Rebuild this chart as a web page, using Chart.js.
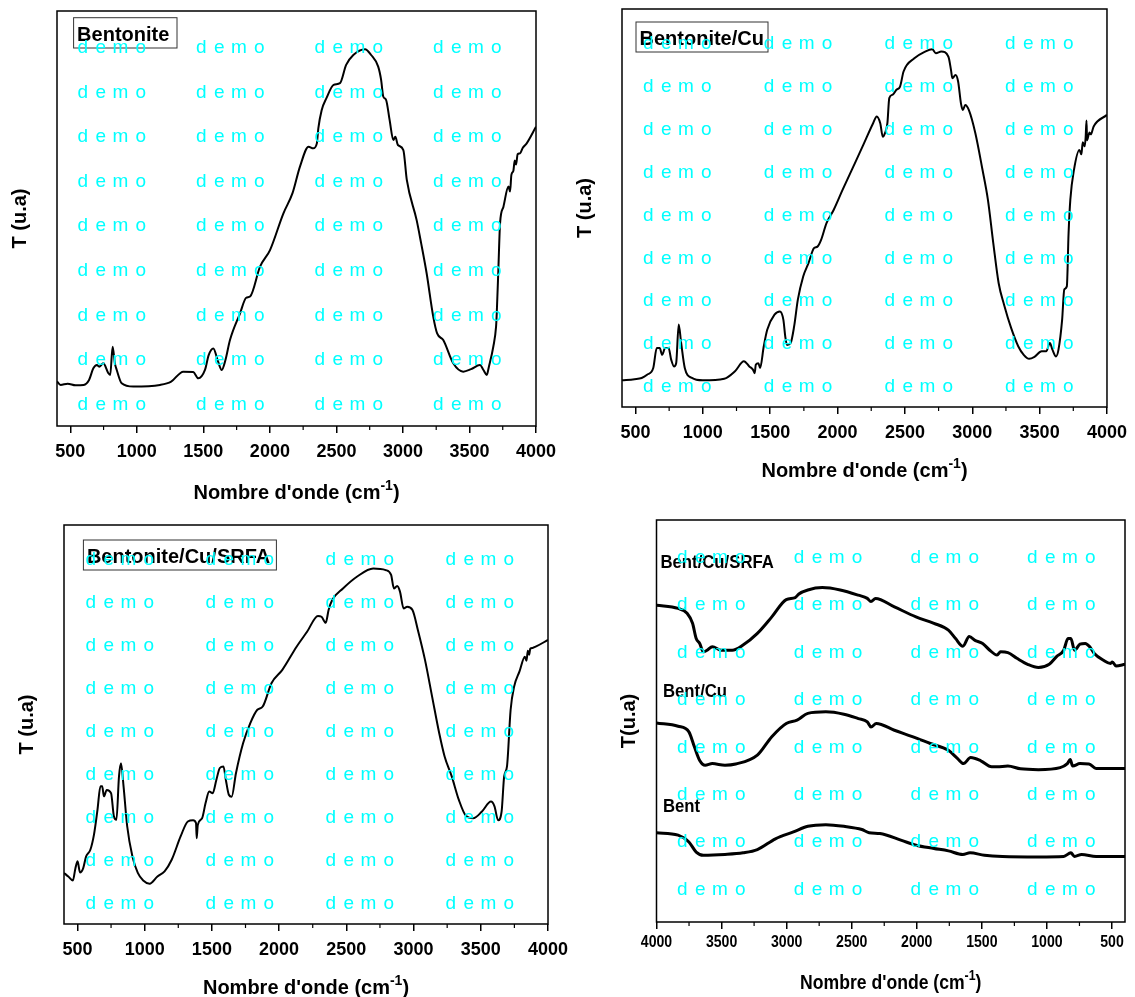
<!DOCTYPE html>
<html>
<head>
<meta charset="utf-8">
<script src="https://cdn.jsdelivr.net/npm/chart.js@4.4.1/dist/chart.umd.min.js"></script>
<style>
  body { margin: 0; background: #fff; width: 1135px; height: 997px; position: relative; overflow: hidden; }
  canvas { position: absolute; }
</style>
</head>
<body>
<canvas id="c1" width="567" height="505" style="left:0;top:0"></canvas>
<canvas id="c2" width="568" height="505" style="left:567px;top:0"></canvas>
<canvas id="c3" width="600" height="492" style="left:0;top:505px"></canvas>
<canvas id="c4" width="568" height="492" style="left:567px;top:505px"></canvas>
<script>
// Bentonite (panel 1)
var bentWn = [400,427,480,540,600,641,673,700,717,748,786,800,818,835,849,886,974,1174,1258,1349,1424,1462,1512,1540,1575,1607,1638,1666,1700,1775,1822,1851,1926,2001,2101,2170,2226,2291,2326,2353,2364,2389,2425,2479,2527,2573,2627,2715,2761,2814,2836,2852,2873,2900,2928,2943,2962,3003,3029,3103,3137,3178,3228,3257,3303,3378,3453,3512,3579,3605,3630,3646,3679,3700,3705,3717,3730,3755,3793,3805,3815,3830,3840,3850,3862,3880,3900,3930,4000];
var bentT = [10.7,9.9,10.2,9.8,9.9,11.1,13.9,14.7,14.3,15.1,12.7,12.3,19.1,15.1,13.5,10.3,9.5,9.9,10.7,13.1,13.0,11.5,13.5,17.1,18.7,15.9,13.5,15.9,20.7,27.1,30.9,31.2,38.4,42.4,51.2,56.1,62.5,67.3,66.9,68.1,71.7,76.1,79,82.2,82.6,87,89.4,90.8,89.4,86.6,83.4,79.4,78.6,73.7,68.9,69.7,67.7,66.5,59.3,49.6,44,36.8,26.3,22.3,20.7,15.1,13.1,13.7,14.7,13.5,12.3,14.3,19.1,24,27.1,37.6,48.9,52.8,57.7,56.5,60.5,61.5,64,63,65.5,65.7,67,68.1,72.1];

// Bentonite/Cu (panel 2)
var cuWn = [400,493,546,586,632,658,680,698,720,746,765,786,802,821,839,866,919,999,1159,1239,1305,1345,1372,1385,1393,1412,1425,1452,1478,1532,1572,1598,1612,1625,1652,1678,1705,1745,1785,1825,1851,1878,1918,1971,2038,2117,2197,2264,2291,2317,2336,2352,2370,2384,2410,2437,2464,2490,2570,2650,2703,2730,2770,2823,2842,2852,2876,2895,2916,2930,2948,2975,3023,3076,3116,3156,3196,3236,3289,3342,3382,3422,3462,3515,3550,3576,3595,3622,3640,3667,3683,3702,3715,3728,3755,3795,3810,3820,3835,3842,3848,3852,3870,3880,3901,4000];
var cuT = [6.7,7.0,7.3,8.1,9.8,14.8,14.8,13.1,14.8,14.8,11.9,10.2,11.0,20.7,16.1,9.8,7.3,6.7,7.1,9.0,11.5,10.2,9.4,8.5,10.6,11.0,9.8,15.2,19.4,23.2,24.0,21.9,17.7,15.6,16.1,20.3,26.9,32.8,36.2,39.9,40.3,42.0,46.2,49.5,54.6,60.4,66.3,71.3,73.0,71.3,67.9,68.8,71.3,77.6,78.5,79.7,80.5,84.3,87.6,89.3,89.9,88.9,89.3,88.0,84.7,82.6,83.4,81.8,76.3,74.6,75.9,74.6,68.8,59.6,52.1,41.2,31.1,25.7,19.8,15.2,13.1,12.1,12.6,14.0,14.0,16.1,14.4,12.7,14.4,21.9,29.5,30.3,43.7,52.1,59.6,64.6,63.5,66.5,65.5,68,72,67,69,68.5,70.5,73.4];

// Bentonite/Cu/SRFA (panel 3)
var srfaWn = [400,432,466,485,501,519,543,564,596,623,649,671,684,697,718,750,771,790,809,824,843,870,909,949,989,1037,1095,1148,1201,1268,1321,1360,1382,1387,1395,1427,1453,1480,1506,1533,1559,1586,1604,1626,1647,1679,1732,1785,1838,1878,1944,2024,2130,2209,2289,2315,2347,2368,2395,2475,2581,2700,2793,2833,2854,2878,2899,2926,2952,2992,3032,3085,3138,3191,3231,3284,3337,3390,3443,3509,3576,3602,3629,3655,3674,3695,3722,3748,3788,3828,3840,3850,3860,3868,3885,3908,4000];
var srfaT = [12.8,11.9,10.9,14.0,15.7,12.9,14.0,16.9,18.6,22.4,28.6,34.5,34.5,32.0,33.6,32.8,27.0,26.1,37.0,40.3,34.5,24.5,16.9,12.8,10.9,10.1,11.9,13.2,16.1,22.0,25.7,26.0,25.3,21.5,24.8,26.5,30.3,33.2,32.8,36.1,39.1,39.5,36.1,32.4,31.9,37.8,45.3,50.3,53.7,54.5,60.4,63.7,69.5,73.3,77.2,77.0,75.5,78.7,81.2,84.1,87.1,89.1,88.7,87.5,84.1,84.7,83.3,79.1,79.5,78.7,73.7,66.2,57.0,47.8,42.0,37.0,31.1,27.1,26.5,28.2,30.7,29.5,26.0,28.2,37.0,39.5,53.7,59.5,63.3,67.0,66.0,68.5,67.5,69.0,69.2,69.5,71.2];

// panel 4, stacked curves (read left to right, 4000 -> 400)
var stSrfaWn = [4000,3834,3765,3723,3695,3668,3640,3612,3571,3502,3418,3335,3225,3114,3003,2934,2906,2837,2726,2588,2449,2380,2352,2317,2172,2006,1868,1757,1702,1646,1597,1549,1494,1439,1383,1356,1300,1231,1148,1065,982,926,871,838,816,788,746,705,672,636,566,511,497,469,400];
var stSrfaT = [78.8,78.0,76.8,74.3,70.5,69.3,67.2,67.6,68.5,67.6,67.6,68.9,71.8,75.9,80.2,80.7,81.6,82.6,83.2,82.6,81.3,80.5,79.7,80.5,78.4,75.9,74.3,72.6,70.5,68.6,71.0,70.0,69.3,67.6,66.4,67.2,67.0,65.6,64.1,63.3,64.1,66.0,67.6,70.5,70.5,67.6,69.1,69.3,68.5,66.8,65.1,64.3,64.7,63.7,64.1];
var stCuWn = [4000,3834,3751,3709,3668,3626,3571,3474,3391,3225,3114,3003,2920,2837,2699,2560,2449,2380,2352,2311,2172,2034,1896,1757,1688,1641,1586,1508,1425,1383,1300,1203,1065,898,843,821,802,746,677,622,511,400];
var stCuT = [49.5,48.7,47.3,43.6,40.2,39.0,39.4,39.0,39.3,41.5,46.1,49.4,50.2,51.9,52.3,51.7,50.6,49.8,48.5,49.4,47.7,46.1,44.4,42.7,40.7,39.4,40.9,40.1,38.6,38.6,38.8,38.1,37.9,38.4,39.4,40.4,38.8,39.4,39.3,38.2,38.2,38.2];
var stBentWn = [4000,3834,3751,3695,3640,3474,3335,3225,3086,2948,2837,2699,2560,2422,2366,2283,2117,2006,1868,1757,1646,1591,1480,1342,1065,871,816,788,733,622,400];
var stBentT = [22.2,21.6,19.9,17.4,16.6,16.8,17.2,18.0,20.7,22.4,23.8,24.2,23.8,23.0,22.2,22.0,20.3,19.1,18.3,17.7,16.8,17.2,16.6,16.3,16.2,16.3,17.2,16.3,16.8,16.3,16.3];

var tickLabels = [500,1000,1500,2000,2500,3000,3500,4000];
var minorTicks = [750,1250,1750,2250,2750,3250,3750];
var xTitle = ["Nombre d'onde (cm", "-1", ")"];

var fontFam = '"Liberation Sans", Arial, sans-serif';

function xy(wn, t) {
  return wn.map(function (w, i) { return {x: w, y: t[i]}; });
}

// text squeezed horizontally (panel 4 uses a narrow face)
function squeezed(ctx, text, x, y, k) {
  ctx.save();
  ctx.translate(x, y);
  ctx.scale(k, 1);
  ctx.fillText(text, 0, 0);
  ctx.restore();
}

var decor = {
  id: 'decor',
  afterDatasetsDraw: function (chart, args, o) {
    var ctx = chart.ctx, a = chart.chartArea, sx = chart.scales.x, k = o.squeeze;
    ctx.save();
    ctx.strokeStyle = '#000';
    ctx.lineWidth = 1.5;
    ctx.strokeRect(a.left, a.top, a.right - a.left, a.bottom - a.top);
    // minor ticks
    ctx.lineWidth = 1.2;
    minorTicks.forEach(function (v) {
      var px = sx.getPixelForValue(v);
      ctx.beginPath(); ctx.moveTo(px, a.bottom); ctx.lineTo(px, a.bottom + 4); ctx.stroke();
    });
    ctx.fillStyle = '#000';
    if (o.tickFont) {
      ctx.font = o.tickFont;
      ctx.textAlign = 'center';
      ctx.textBaseline = 'middle';
      tickLabels.forEach(function (v) {
        squeezed(ctx, String(v), sx.getPixelForValue(v), a.bottom + o.tickDy, k);
      });
    }
    ctx.textBaseline = 'alphabetic';
    ctx.textAlign = 'left';
    if (o.box) {
      var b = o.box;
      ctx.lineWidth = 1;
      ctx.strokeStyle = '#333';
      ctx.strokeRect(a.left + b.x, a.top + b.y, b.w, b.h);
      ctx.font = 'bold 20px ' + fontFam;
      ctx.fillText(b.text, a.left + b.x + 3.5, a.top + b.y + 23);
    }
    (o.labels || []).forEach(function (l) {
      ctx.font = o.labelFont;
      squeezed(ctx, l.text, a.left + l.x, a.top + l.y + 7, k);
    });
    // x axis title with superscript
    ctx.font = o.titleFont;
    var w0 = ctx.measureText(xTitle[0]).width * k, w2 = ctx.measureText(xTitle[2]).width * k;
    ctx.font = o.supFont;
    var w1 = ctx.measureText(xTitle[1]).width * k;
    var tx = (a.left + a.right) / 2 - (w0 + w1 + w2) / 2, ty = a.bottom + o.titleDy;
    ctx.font = o.titleFont; squeezed(ctx, xTitle[0], tx, ty, k);
    ctx.font = o.supFont; squeezed(ctx, xTitle[1], tx + w0, ty - 9, k);
    ctx.font = o.titleFont; squeezed(ctx, xTitle[2], tx + w0 + w1, ty, k);
    ctx.restore();
  },
  afterDraw: function (chart, args, o) {
    var ctx = chart.ctx, a = chart.chartArea, wm = o.wm;
    var offs = [0, 18, 35, 58], chars = ['d', 'e', 'm', 'o'];
    ctx.save();
    ctx.fillStyle = '#00ffff';
    ctx.font = '19px ' + fontFam;
    ctx.textBaseline = 'alphabetic';
    ctx.textAlign = 'left';
    for (var r = 0; r < wm.ny; r++) {
      for (var c = 0; c < wm.nx; c++) {
        var x = a.left + wm.x0 + c * wm.dx, y = a.top + wm.y0 + r * wm.dy + 7;
        for (var i = 0; i < 4; i++) ctx.fillText(chars[i], x + offs[i], y);
      }
    }
    ctx.restore();
  }
};

function makePanel(id, p) {
  var ctx = document.getElementById(id).getContext('2d');
  return new Chart(ctx, {
    type: 'line',
    data: {
      datasets: p.series.map(function (s) {
        return {
          data: s, borderColor: '#000', borderWidth: p.lw, pointRadius: 0,
          fill: false, tension: 0.35, cubicInterpolationMode: 'monotone'
        };
      })
    },
    options: {
      responsive: false,
      animation: false,
      events: [],
      layout: { padding: { left: 0, top: p.padTop, right: p.padRight, bottom: 0 } },
      plugins: {
        legend: { display: false },
        tooltip: { enabled: false },
        decor: {
          box: p.box, labels: p.labels, labelFont: p.labelFont, wm: p.wm,
          titleFont: p.titleFont, supFont: p.supFont, titleDy: p.titleDy,
          squeeze: p.squeeze || 1, tickFont: p.ownTicks, tickDy: p.tickDy
        }
      },
      scales: {
        x: {
          type: 'linear', min: 400, max: 4000, reverse: !!p.reverse,
          border: { display: false },
          grid: { display: true, drawOnChartArea: false, drawTicks: true, tickLength: 7, color: '#000', lineWidth: 1.5 },
          ticks: {
            display: !p.ownTicks,
            color: '#000', font: p.tickFont, padding: p.tickPad,
            autoSkip: false, maxRotation: 0,
            callback: function (v) { return String(v); }
          },
          afterBuildTicks: function (s) { s.ticks = tickLabels.map(function (v) { return {value: v}; }); },
          afterFit: function (s) { s.height = p.xH; }
        },
        y: {
          min: 0, max: 100,
          border: { display: false },
          grid: { display: false },
          ticks: { display: false },
          title: {
            display: true, text: p.yTitle, color: '#000',
            font: p.yFont, padding: { top: p.yPad, bottom: 0 }
          },
          afterFit: function (s) { s.width = p.yW; }
        }
      }
    },
    plugins: [decor]
  });
}

var tickFont = { family: fontFam, size: 18, weight: 'bold' };
var yFont = { family: fontFam, size: 20, weight: 'bold' };

makePanel('c1', {
  series: [xy(bentWn, bentT)], lw: 2,
  padTop: 11, padRight: 31, yW: 57, xH: 79, yPad: 8, tickPad: 8,
  tickFont: tickFont, yFont: yFont, yTitle: 'T (u.a)',
  titleFont: 'bold 20px ' + fontFam, supFont: 'bold 14px ' + fontFam, titleDy: 73,
  box: { text: 'Bentonite', x: 16.6, y: 6.7, w: 103.4, h: 30.3 },
  wm: { x0: 20.5, dx: 118.5, y0: 35, dy: 44.6, nx: 4, ny: 9 }
});

makePanel('c2', {
  series: [xy(cuWn, cuT)], lw: 2,
  padTop: 9, padRight: 26, yW: 55, xH: 98, yPad: 6, tickPad: 8,
  tickFont: tickFont, yFont: yFont, yTitle: 'T (u.a)',
  titleFont: 'bold 20px ' + fontFam, supFont: 'bold 14px ' + fontFam, titleDy: 70,
  box: { text: 'Bentonite/Cu', x: 14, y: 13, w: 132, h: 30 },
  wm: { x0: 21, dx: 120.7, y0: 33, dy: 42.9, nx: 4, ny: 9 }
});

makePanel('c3', {
  series: [xy(srfaWn, srfaT)], lw: 2,
  padTop: 20, padRight: 52, yW: 64, xH: 73, yPad: 15, tickPad: 8,
  tickFont: tickFont, yFont: yFont, yTitle: 'T (u.a)',
  titleFont: 'bold 20px ' + fontFam, supFont: 'bold 14px ' + fontFam, titleDy: 70,
  box: { text: 'Bentonite/Cu/SRFA', x: 19.4, y: 15, w: 193, h: 30 },
  wm: { x0: 21.4, dx: 120, y0: 33, dy: 43, nx: 4, ny: 9 }
});

makePanel('c4', {
  series: [xy(stSrfaWn, stSrfaT), xy(stCuWn, stCuT), xy(stBentWn, stBentT)], lw: 3,
  reverse: true, squeeze: 0.88,
  padTop: 15, padRight: 10, yW: 89.5, xH: 75, yPad: 50, tickPad: 7,
  ownTicks: 'bold 16px ' + fontFam, tickDy: 21,
  tickFont: { family: fontFam, size: 16, weight: 'bold' },
  yFont: yFont, yTitle: 'T(u.a)',
  titleFont: 'bold 20px ' + fontFam, supFont: 'bold 14px ' + fontFam, titleDy: 67,
  labels: [
    { text: 'Bent/Cu/SRFA', x: 4, y: 41 },
    { text: 'Bent/Cu', x: 6.5, y: 170 },
    { text: 'Bent', x: 6.5, y: 285 }
  ],
  labelFont: 'bold 19px ' + fontFam,
  wm: { x0: 20.5, dx: 116.7, y0: 36, dy: 47.4, nx: 4, ny: 8 }
});
</script>
</body>
</html>
